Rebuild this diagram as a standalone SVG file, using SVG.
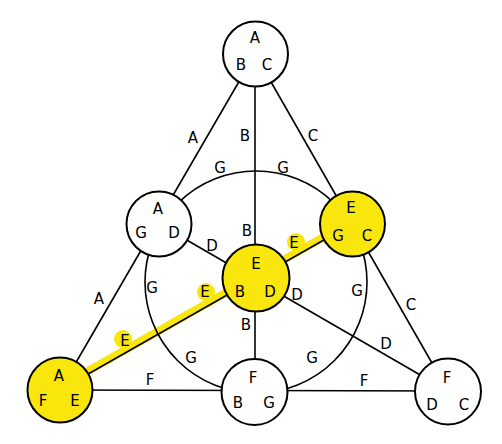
<svg xmlns="http://www.w3.org/2000/svg" width="502" height="444" viewBox="0 0 502 444">
<style>
text{font-family:"DejaVu Sans","Liberation Sans",sans-serif;font-size:15px;fill:#000;text-anchor:middle}
.e{stroke:#000;stroke-width:1.6;fill:none}
.n{stroke:#000;stroke-width:2;fill:#fff}
.h{fill:#f8e60c}
.hl{stroke:#f8e60c;stroke-width:8;fill:none}
</style>
<rect width="502" height="444" fill="#fff"/>
<g id="connectors">
<line class="hl" x1="59" y1="387.5" x2="351" y2="221.5"/>
<line class="e" x1="255" y1="54" x2="60" y2="390"/>
<line class="e" x1="255" y1="54" x2="448" y2="391"/>
<line class="e" x1="60" y1="390" x2="448" y2="391"/>
<line class="e" x1="255" y1="54" x2="255" y2="392"/>
<line class="e" x1="159" y1="224" x2="448" y2="391"/>
<line class="e" x1="352" y1="224" x2="60" y2="390"/>
<circle class="e" cx="256" cy="282" r="111"/>
<text x="193" y="143">A</text>
<text x="245" y="141">B</text>
<text x="313" y="141">C</text>
<text x="220" y="173">G</text>
<text x="283" y="173">G</text>
<text x="247" y="236">B</text>
<text x="212" y="251">D</text>
<circle class="h" cx="296" cy="242" r="9"/>
<text x="294" y="248">E</text>
<circle class="h" cx="206" cy="292" r="9"/>
<text x="205" y="297">E</text>
<circle class="h" cx="123" cy="339" r="9"/>
<text x="125" y="346">E</text>
<text x="152" y="293">G</text>
<text x="357" y="296">G</text>
<text x="411" y="310">C</text>
<text x="386" y="349">D</text>
<text x="297" y="300">D</text>
<text x="99" y="304">A</text>
<text x="246" y="330">B</text>
<text x="191" y="363">G</text>
<text x="312" y="363">G</text>
<text x="150" y="385">F</text>
<text x="364" y="386">F</text>
</g>
<g id="n1"><circle class="n" cx="255.5" cy="54" r="32.5"/><text x="255" y="43">A</text><text x="241" y="70">B</text><text x="267" y="70">C</text></g>
<g id="n2"><circle class="n" cx="159" cy="224" r="32.5"/><text x="158" y="214">A</text><text x="141" y="238">G</text><text x="174" y="238">D</text></g>
<g id="n3"><circle class="n h" cx="352.5" cy="224" r="32.5"/><text x="351" y="213">E</text><text x="338" y="241">G</text><text x="367" y="241">C</text></g>
<g id="n4"><circle class="n h" cx="256" cy="278" r="33.5"/><text x="256" y="269">E</text><text x="240" y="297">B</text><text x="270" y="297">D</text></g>
<g id="n5"><circle class="n h" cx="60" cy="390" r="32.5"/><text x="59" y="381">A</text><text x="43" y="406">F</text><text x="75" y="406">E</text></g>
<g id="n6"><circle class="n" cx="254.5" cy="392" r="33"/><text x="253" y="383">F</text><text x="238" y="408">B</text><text x="269" y="408">G</text></g>
<g id="n7"><circle class="n" cx="448" cy="391.5" r="33"/><text x="447" y="383">F</text><text x="432" y="410">D</text><text x="464" y="410">C</text></g>
</svg>
